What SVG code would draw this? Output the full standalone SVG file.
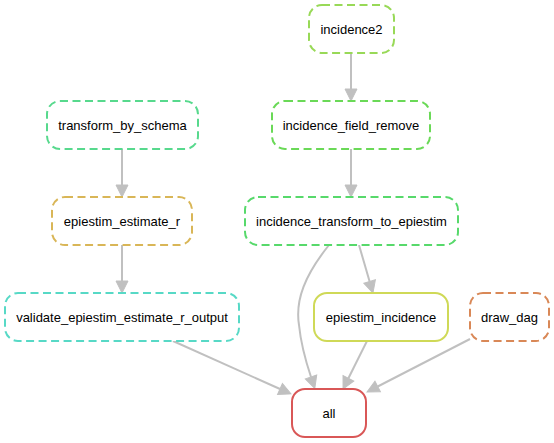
<svg xmlns="http://www.w3.org/2000/svg" width="554" height="443" viewBox="0 0 554 443">
<style>
  .node rect { fill: #ffffff; stroke-width: 2; }
  .dashed { stroke-dasharray: 8,4.5; }
  .node text { font-family: "Liberation Sans", Arial, sans-serif; font-size: 13px; fill: #000000; text-anchor: middle; }
  .edges path { fill: none; stroke: #c0c0c0; stroke-width: 2; marker-end: url(#arrow); }
</style>
<defs>
  <marker id="arrow" markerUnits="userSpaceOnUse" markerWidth="14" markerHeight="14" refX="0" refY="6" orient="auto" overflow="visible">
    <path d="M0,0 L12,6 L0,12 z" fill="#c0c0c0" stroke="#c0c0c0" stroke-width="1"/>
  </marker>
</defs>
<rect width="554" height="443" fill="#ffffff"/>
<g class="edges">
  <path d="M122,149 L122,185"/>
  <path d="M122,245 L122,281"/>
  <path d="M351,53 L351,89"/>
  <path d="M351,149 L351,185"/>
  <path d="M359,245 L369.6,281.5"/>
  <path d="M329,245 C305,275 295,300 299,325 C301,345 306,362 311,377"/>
  <path d="M173,341 L280,389"/>
  <path d="M367,341 L348.4,378.3"/>
  <path d="M470,339 L377.7,386.5"/>
</g>
<g id="incidence2" class="node">
  <rect class="dashed" x="309" y="5" width="85" height="48" rx="13" stroke="#98d957"/>
  <text x="351.5" y="33.5">incidence2</text>
</g>
<g id="transform_by_schema" class="node">
  <rect class="dashed" x="47" y="101" width="151" height="48" rx="13" stroke="#57d98d"/>
  <text x="122.5" y="129.5">transform_by_schema</text>
</g>
<g id="incidence_field_remove" class="node">
  <rect class="dashed" x="272" y="101" width="158" height="48" rx="13" stroke="#6ad957"/>
  <text x="351" y="129.5">incidence_field_remove</text>
</g>
<g id="epiestim_estimate_r" class="node">
  <rect class="dashed" x="52" y="197" width="140" height="48" rx="13" stroke="#d9b657"/>
  <text x="122" y="225.5">epiestim_estimate_r</text>
</g>
<g id="incidence_transform_to_epiestim" class="node">
  <rect class="dashed" x="245" y="197" width="213" height="48" rx="13" stroke="#57d96b"/>
  <text x="351.5" y="225.5">incidence_transform_to_epiestim</text>
</g>
<g id="validate_epiestim_estimate_r_output" class="node">
  <rect class="dashed" x="5" y="293" width="234" height="48" rx="13" stroke="#57d9c6"/>
  <text x="122" y="321.5">validate_epiestim_estimate_r_output</text>
</g>
<g id="epiestim_incidence" class="node">
  <rect x="314" y="293" width="134" height="48" rx="13" stroke="#cfd957"/>
  <text x="381" y="321.5">epiestim_incidence</text>
</g>
<g id="draw_dag" class="node">
  <rect class="dashed" x="470" y="293" width="79" height="48" rx="13" stroke="#d98857"/>
  <text x="509.5" y="321.5">draw_dag</text>
</g>
<g id="all" class="node">
  <rect x="292" y="389" width="74" height="48" rx="13" stroke="#d95757"/>
  <text x="329" y="417.5">all</text>
</g>
</svg>
